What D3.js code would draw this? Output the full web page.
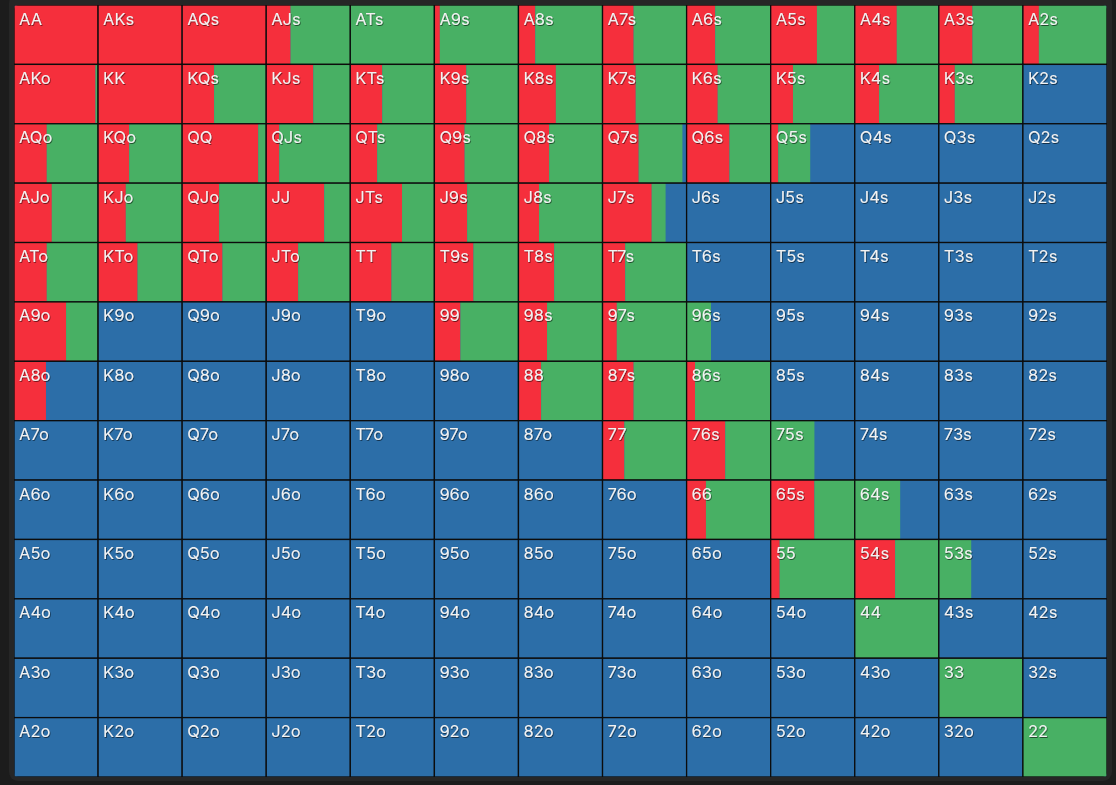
<!DOCTYPE html>
<html>
<head>
<meta charset="utf-8">
<script src="https://cdn.jsdelivr.net/npm/d3@7"></script>
<style>
  html, body { margin: 0; padding: 0; background: #1c1c1c; }
  svg { display: block; }
  .lbl { font-family: Inter, "Noto Sans", sans-serif; font-size: 16.5px; font-weight: 400; fill: #f2f2f2; }
</style>
</head>
<body>
<svg width="1116" height="785"></svg>
<script>
// Hand range: rows/cols in rank order, upper right = suited, lower left = offsuit
var ranks = ['A', 'K', 'Q', 'J', 'T', '9', '8', '7', '6', '5', '4', '3', '2'];

// share of each hand that raises (red)
var raise = [
  [1.00, 1.00, 1.00, 0.29, 0.00, 0.065, 0.20, 0.37, 0.34, 0.55, 0.50, 0.40, 0.19],
  [0.97, 1.00, 0.38, 0.56, 0.38, 0.38, 0.445, 0.395, 0.37, 0.265, 0.29, 0.19, 0.00],
  [0.39, 0.37, 0.905, 0.155, 0.32, 0.36, 0.365, 0.43, 0.51, 0.09, 0.00, 0.00, 0.00],
  [0.45, 0.33, 0.44, 0.69, 0.615, 0.39, 0.245, 0.585, 0.00, 0.00, 0.00, 0.00, 0.00],
  [0.39, 0.47, 0.48, 0.38, 0.49, 0.465, 0.425, 0.27, 0.00, 0.00, 0.00, 0.00, 0.00],
  [0.62, 0.00, 0.00, 0.00, 0.00, 0.31, 0.34, 0.17, 0.00, 0.00, 0.00, 0.00, 0.00],
  [0.38, 0.00, 0.00, 0.00, 0.00, 0.00, 0.27, 0.37, 0.10, 0.00, 0.00, 0.00, 0.00],
  [0.00, 0.00, 0.00, 0.00, 0.00, 0.00, 0.00, 0.26, 0.46, 0.00, 0.00, 0.00, 0.00],
  [0.00, 0.00, 0.00, 0.00, 0.00, 0.00, 0.00, 0.00, 0.23, 0.52, 0.00, 0.00, 0.00],
  [0.00, 0.00, 0.00, 0.00, 0.00, 0.00, 0.00, 0.00, 0.00, 0.107, 0.48, 0.00, 0.00],
  [0.00, 0.00, 0.00, 0.00, 0.00, 0.00, 0.00, 0.00, 0.00, 0.00, 0.00, 0.00, 0.00],
  [0.00, 0.00, 0.00, 0.00, 0.00, 0.00, 0.00, 0.00, 0.00, 0.00, 0.00, 0.00, 0.00],
  [0.00, 0.00, 0.00, 0.00, 0.00, 0.00, 0.00, 0.00, 0.00, 0.00, 0.00, 0.00, 0.00]
];

// share of each hand that calls (green); the rest folds (blue)
var call = [
  [0.00, 0.00, 0.00, 0.71, 1.00, 0.935, 0.80, 0.63, 0.66, 0.45, 0.50, 0.60, 0.81],
  [0.03, 0.00, 0.62, 0.44, 0.62, 0.62, 0.555, 0.605, 0.63, 0.735, 0.71, 0.81, 0.00],
  [0.61, 0.63, 0.095, 0.845, 0.68, 0.64, 0.635, 0.52, 0.49, 0.38, 0.00, 0.00, 0.00],
  [0.55, 0.67, 0.56, 0.31, 0.385, 0.61, 0.755, 0.165, 0.00, 0.00, 0.00, 0.00, 0.00],
  [0.61, 0.53, 0.52, 0.62, 0.51, 0.535, 0.575, 0.73, 0.00, 0.00, 0.00, 0.00, 0.00],
  [0.38, 0.00, 0.00, 0.00, 0.00, 0.69, 0.66, 0.83, 0.29, 0.00, 0.00, 0.00, 0.00],
  [0.00, 0.00, 0.00, 0.00, 0.00, 0.00, 0.73, 0.63, 0.90, 0.00, 0.00, 0.00, 0.00],
  [0.00, 0.00, 0.00, 0.00, 0.00, 0.00, 0.00, 0.74, 0.54, 0.52, 0.00, 0.00, 0.00],
  [0.00, 0.00, 0.00, 0.00, 0.00, 0.00, 0.00, 0.00, 0.77, 0.48, 0.54, 0.00, 0.00],
  [0.00, 0.00, 0.00, 0.00, 0.00, 0.00, 0.00, 0.00, 0.00, 0.893, 0.52, 0.385, 0.00],
  [0.00, 0.00, 0.00, 0.00, 0.00, 0.00, 0.00, 0.00, 0.00, 0.00, 1.00, 0.00, 0.00],
  [0.00, 0.00, 0.00, 0.00, 0.00, 0.00, 0.00, 0.00, 0.00, 0.00, 0.00, 1.00, 0.00],
  [0.00, 0.00, 0.00, 0.00, 0.00, 0.00, 0.00, 0.00, 0.00, 0.00, 0.00, 0.00, 1.00]
];

var colors = {raise: '#f52f3c', call: '#48b064', fold: '#2c6ea8'};

(function() {
  var svg = d3.select('svg');
  var gx0 = 14, gy0 = 5, gx1 = 1107, gy1 = 777;

  var x = d3.scaleBand().domain(d3.range(13)).range([gx0, gx1]);
  var y = d3.scaleBand().domain(d3.range(13)).range([gy0, gy1]);

  function handName(i, j) {
    if (i === j) return ranks[i] + ranks[j];
    if (j > i) return ranks[i] + ranks[j] + 's';
    return ranks[j] + ranks[i] + 'o';
  }

  var cells = [];
  ranks.forEach(function(r, i) {
    ranks.forEach(function(c, j) {
      cells.push({i: i, j: j, name: handName(i, j), r: raise[i][j], c: call[i][j]});
    });
  });

  // frame behind the grid
  svg.append('rect')
    .attr('x', gx0 - 5).attr('y', -6)
    .attr('width', gx1 - gx0 + 10).attr('height', gy1 + 10)
    .attr('rx', 9).attr('fill', '#262626');

  var defs = svg.append('defs');
  defs.append('clipPath').attr('id', 'gridclip')
    .append('rect')
    .attr('x', gx0).attr('y', gy0)
    .attr('width', gx1 - gx0).attr('height', gy1 - gy0)
    .attr('rx', 4);

  var shadow = defs.append('filter').attr('id', 'tshadow')
    .attr('x', '-20%').attr('y', '-20%').attr('width', '140%').attr('height', '160%');
  shadow.append('feDropShadow')
    .attr('dx', 0.7).attr('dy', 1).attr('stdDeviation', 0.7)
    .attr('flood-color', '#000').attr('flood-opacity', 0.55);

  var grid = svg.append('g').attr('clip-path', 'url(#gridclip)');

  var g = grid.selectAll('g.cell')
    .data(cells)
    .enter()
    .append('g')
    .attr('class', 'cell')
    .attr('transform', function(d) { return 'translate(' + x(d.j) + ',' + y(d.i) + ')'; });

  var w = x.bandwidth(), h = y.bandwidth();

  // fold background, then raise and call bars from the left
  g.append('rect')
    .attr('width', w).attr('height', h)
    .attr('fill', colors.fold);
  g.append('rect')
    .attr('width', function(d) { return w * d.r; })
    .attr('height', h)
    .attr('fill', colors.raise);
  g.append('rect')
    .attr('x', function(d) { return w * d.r; })
    .attr('width', function(d) { return w * d.c; })
    .attr('height', h)
    .attr('fill', colors.call);

  g.append('rect')
    .attr('width', w).attr('height', h)
    .attr('fill', 'none')
    .attr('stroke', '#0c0c0c')
    .attr('stroke-width', 1.3);

  g.append('text')
    .attr('class', 'lbl')
    .attr('x', 5)
    .attr('y', 19.5)
    .attr('filter', 'url(#tshadow)')
    .text(function(d) { return d.name; });
})();
</script>
</body>
</html>
